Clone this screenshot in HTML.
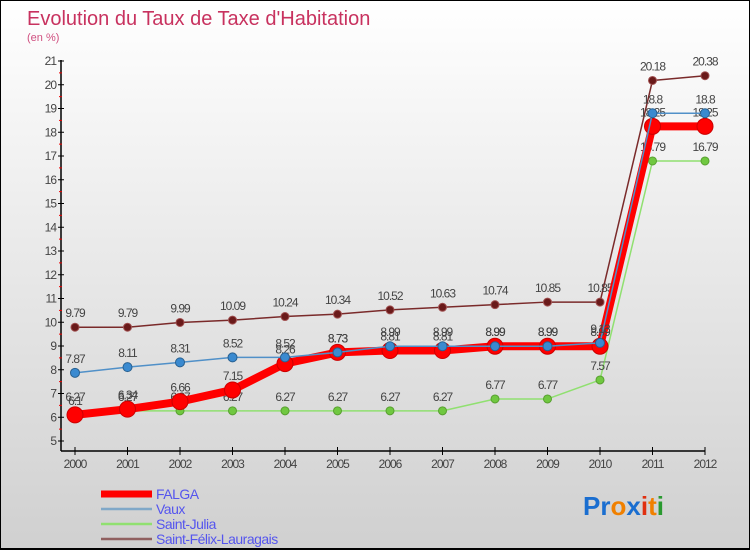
<!DOCTYPE html>
<html><head><meta charset="utf-8"><style>
body{margin:0}
#c{width:748px;height:547px;border:1px solid #000;border-bottom:2px solid #000;background:linear-gradient(#fff,#d0d0d0);position:relative;font-family:"Liberation Sans",sans-serif;overflow:hidden}
svg text{font-family:"Liberation Sans",sans-serif}
</style></head><body>
<div id="c">
<svg id="s" width="748" height="547">
<text x="26" y="24" font-size="20" fill="#c8325f">Evolution du Taux de Taxe d'Habitation</text>
<text x="26" y="40" font-size="11" fill="#d05080">(en %)</text>
<g font-size="26" font-family="Liberation Sans" font-weight="bold">
<text x="582" y="514"><tspan fill="#1a6ed0">Pr</tspan><tspan fill="#f08000">o</tspan><tspan fill="#1a6ed0">x</tspan><tspan fill="#e03010">i</tspan><tspan fill="#f08000">t</tspan><tspan fill="#2a9a30">i</tspan></text>
</g>
</svg>
</div>
<script>
const years=["2000","2001","2002","2003","2004","2005","2006","2007","2008","2009","2010","2011","2012"];
const falga=[6.1,6.34,6.66,7.15,8.26,8.73,8.81,8.81,8.99,8.99,8.99,18.25,18.25];
const vaux=[7.87,8.11,8.31,8.52,8.52,8.73,8.99,8.99,8.99,8.99,9.13,18.8,18.8];
const julia=[6.27,6.27,6.27,6.27,6.27,6.27,6.27,6.27,6.77,6.77,7.57,16.79,16.79];
const sfl=[9.79,9.79,9.99,10.09,10.24,10.34,10.52,10.63,10.74,10.85,10.85,20.18,20.38];
const yTicks=[5,6,7,8,9,10,11,12,13,14,15,16,17,18,19,20,21];
const NS="http://www.w3.org/2000/svg",s=document.getElementById('s');
const X=i=>74+i*52.5, Y=v=>440-(v-5)*23.75;
function el(t,a,p){const e=document.createElementNS(NS,t);for(const k in a)e.setAttribute(k,a[k]);(p||s).appendChild(e);return e;}
const ax=el('g',{});


const ya=el('line',{x1:60,y1:Y(21)-1,x2:60,y2:450,stroke:'#000','stroke-width':1.5},ax);


const xa=el('line',{x1:60,y1:450,x2:X(12),y2:450,stroke:'#000','stroke-width':1.5},ax);


yTicks.forEach(v=>{
 el('line',{x1:57,y1:Y(v),x2:63,y2:Y(v),stroke:'#000'},ax);
 if(v<21)el('line',{x1:58,y1:Y(v+0.5),x2:61,y2:Y(v+0.5),stroke:'#e00'},ax);
 const t=el('text',{x:55,y:Y(v)+4,'text-anchor':'end','font-size':12,fill:'#444','letter-spacing':'-1'},ax);
 t.textContent=v;
 
 
});
years.forEach((y,i)=>{
 el('line',{x1:X(i),y1:446,x2:X(i),y2:454,stroke:'#000'},ax);
 const t=el('text',{x:X(i),y:467,'text-anchor':'middle','font-size':12,fill:'#444','letter-spacing':'-1'},ax);
 t.textContent=y;
 
 
});
function series(name,vals,col,w,r,fill,stroke){
 const g=el('g',{});
 
 
 el('polyline',{points:vals.map((v,i)=>X(i)+','+Y(v)).join(' '),fill:'none',stroke:col,'stroke-width':w,'stroke-linejoin':'round'},g);
 vals.forEach((v,i)=>{
  const c=el('circle',{cx:X(i),cy:Y(v),r:r,fill:fill,stroke:stroke,'stroke-width':1},g);
  
  
  const t=el('text',{x:X(i),y:Y(v)-10,'text-anchor':'middle','font-size':12,fill:'#444','letter-spacing':'-1'},g);
  t.textContent=v;
  
  
 });
}
series('saint-felix',sfl,'#7a2a2a',1.5,4,'#6a1a1a','#a05050');
series('saint-julia',julia,'#90e070',1.5,4,'#70c840','#58a030');
series('falga',falga,'#f00',8,8,'#f00','#c00');
series('vaux',vaux,'#5090c8',1.5,4.5,'#3a8ad0','#286090');
const leg=[['FALGA','#f00',7],['Vaux','#80a8c8',2.5],['Saint-Julia','#90e070',2.5],['Saint-Félix-Lauragais','#906060',2.5]];
leg.forEach((l,i)=>{
 const g=el('g',{});
 
 
 const y=492+i*15;
 el('line',{x1:100,y1:y+1,x2:151,y2:y+1,stroke:l[1],'stroke-width':l[2]},g);
 const t=el('text',{x:155,y:y+6,'font-size':14,fill:'#5555ee','letter-spacing':'-0.5'},g);
 t.textContent=l[0];
});
</script>
</body></html>
